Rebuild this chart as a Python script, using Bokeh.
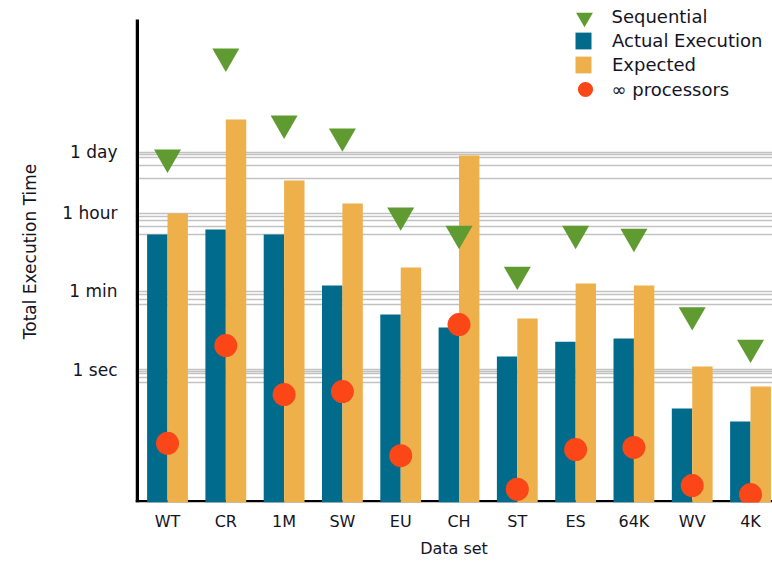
import numpy as np
from bokeh.plotting import figure
from bokeh.models import (BoxAnnotation, ColumnDataSource, FixedTicker, Legend,
                          LegendItem, Range1d)
from bokeh.transform import dodge
from bokeh.embed import file_html
from bokeh.resources import INLINE

# Execution times in seconds for each data set
datasets = ["WT", "CR", "1M", "SW", "EU", "CH", "ST", "ES", "64K", "WV", "4K"]
actual = [1170, 1520, 1170, 81, 17.8, 9.0, 1.97, 4.3, 5.1, 0.13, 0.066]
expected = [3510, 480000, 19700, 5900, 208, 73000, 14.4, 90, 81, 1.17, 0.41]
sequential = [66500, 1.31e7, 394000, 200000, 3200, 1230, 144, 1230, 1050, 17.3, 3.16]
infinite_procs = [0.021, 3.5, 0.27, 0.316, 0.011, 10.5, 0.0019, 0.0152, 0.017, 0.0023, 0.00144]

# Labelled time units and the reference lines drawn beneath each one
time_ticks = [1, 60, 3600, 86400]
time_labels = ["1 sec", "1 min", "1 hour", "1 day"]
grid_seconds = [0.5, 0.65, 0.8, 0.9, 1.0,
                30, 40, 50, 60,
                1200, 1800, 2400, 3000, 3600,
                21600, 43200, 64800, 75600, 86400]

TEAL = "#016b8c"
ORANGE = "#edb04b"
GREEN = "#5f9b31"
RED = "#fb4617"
TEXT = "#14141f"
FONT = "DejaVu Sans"

W, H = 772, 561
LEFT, BOTTOM = 135, 59
frame_w, frame_h = W - LEFT, H - BOTTOM

# value axis: bars rest on y_min, the drawn axis line stops at y_axis_top
y_min, y_axis_top = 9.5e-4, 9e7
axis_px = frame_h - 19
px_per_dec = axis_px / (np.log10(y_axis_top) - np.log10(y_min))
y_max = 10 ** (np.log10(y_axis_top) + 19 / px_per_dec)

x_lo, x_hi = -0.549, 10.377
px_per_unit = frame_w / (x_hi - x_lo)

xs = np.arange(len(datasets))
src = ColumnDataSource(dict(x=xs, name=datasets, actual=actual, expected=expected,
                            seq=sequential, inf=infinite_procs))

p = figure(width=W, height=H, y_axis_type="log",
           x_range=Range1d(x_lo, x_hi), y_range=Range1d(y_min, y_max),
           output_backend="svg", toolbar_location=None,
           min_border_left=LEFT, min_border_right=0, min_border_top=0,
           min_border_bottom=BOTTOM)
p.outline_line_color = None
p.background_fill_color = "white"

# grid
p.xgrid.visible = False
p.ygrid.ticker = FixedTicker(ticks=grid_seconds)
p.ygrid.grid_line_color = "#c2c2c2"
p.ygrid.grid_line_width = 1.6

# axes (lines drawn separately below)
p.yaxis.ticker = FixedTicker(ticks=time_ticks, minor_ticks=[])
p.yaxis.major_label_overrides = {t: lab for t, lab in zip(time_ticks, time_labels)}
p.yaxis.axis_line_color = None
p.yaxis.major_tick_line_color = None
p.yaxis.minor_tick_line_color = None
p.yaxis.major_tick_out = 0
p.yaxis.major_label_standoff = 18
p.yaxis.major_label_text_font = FONT
p.yaxis.major_label_text_font_size = "17px"
p.yaxis.major_label_text_color = TEXT
p.yaxis.axis_label = "Total Execution Time"
p.yaxis.axis_label_text_font = FONT
p.yaxis.axis_label_text_font_size = "17px"
p.yaxis.axis_label_text_font_style = "normal"
p.yaxis.axis_label_text_color = TEXT
p.yaxis.axis_label_standoff = 19

p.xaxis.ticker = FixedTicker(ticks=list(xs))
p.xaxis.major_label_overrides = {int(i): n for i, n in zip(xs, datasets)}
p.xaxis.axis_line_color = None
p.xaxis.major_tick_line_color = None
p.xaxis.minor_tick_line_color = None
p.xaxis.major_tick_out = 0
p.xaxis.major_label_standoff = 9
p.xaxis.major_label_text_font = FONT
p.xaxis.major_label_text_font_size = "16px"
p.xaxis.major_label_text_color = TEXT
p.xaxis.axis_label = "Data set"
p.xaxis.axis_label_text_font = FONT
p.xaxis.axis_label_text_font_size = "16px"
p.xaxis.axis_label_text_font_style = "normal"
p.xaxis.axis_label_text_color = TEXT
p.xaxis.axis_label_standoff = 5

# baseline under the bars and the vertical axis line
p.add_layout(BoxAnnotation(bottom=y_min, top=y_min * 10 ** (2.5 / px_per_dec),
                           fill_color="black", fill_alpha=1, line_color=None,
                           level="underlay"))
p.add_layout(BoxAnnotation(left=x_lo, right=x_lo + 3.5 / px_per_unit,
                           bottom=y_min, top=y_axis_top,
                           fill_color="black", fill_alpha=1, line_color=None))

# bars
r_act = p.vbar(x=dodge("x", -0.175, range=p.x_range), top="actual", bottom=y_min,
               width=0.35, fill_color=TEAL, line_color=None, source=src)
r_exp = p.vbar(x=dodge("x", 0.175, range=p.x_range), top="expected", bottom=y_min,
               width=0.35, fill_color=ORANGE, line_color=None, source=src)

# markers
r_seq = p.scatter("x", "seq", marker="inverted_triangle", size=27,
                  fill_color=GREEN, line_color=None, source=src)
r_inf = p.scatter("x", "inf", marker="circle", size=23,
                  fill_color=RED, line_color=None, source=src)


def make_legend(items, loc, gw, gh, standoff, spacing=0):
    leg = Legend(items=items, location=loc, glyph_width=gw, glyph_height=gh,
                 label_standoff=standoff, spacing=spacing, padding=0, margin=0,
                 label_height=gh, border_line_color=None, background_fill_alpha=0,
                 label_text_font=FONT, label_text_font_size="18px",
                 label_text_color=TEXT)
    p.add_layout(leg, "center")
    return leg


make_legend([LegendItem(label="Sequential", renderers=[r_seq])],
            (427.5, 464.3), 42, 42, 7)
make_legend([LegendItem(label="Actual Execution", renderers=[r_act]),
             LegendItem(label="Expected", renderers=[r_exp])],
            (438, 427), 20, 21, 19, spacing=3)
make_legend([LegendItem(label="\u221e processors", renderers=[r_inf])],
            (430.5, 394), 38, 38, 8)

open("out.html", "w").write(file_html(p, INLINE))
